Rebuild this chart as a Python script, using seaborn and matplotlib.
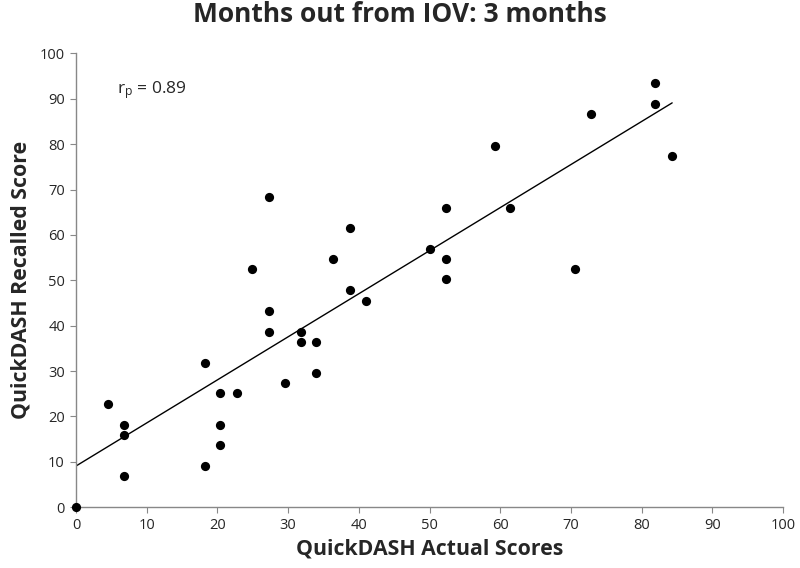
import numpy as np
import pandas as pd
import seaborn as sns
from matplotlib import pyplot as plt

# QuickDASH scores
actual = [0, 4.5, 6.8, 6.8, 6.8, 18.2, 18.2, 20.4, 22.7, 20.4, 20.4, 24.9, 27.3, 27.3, 27.3,
          29.6, 31.8, 31.8, 34.0, 34.0, 38.7, 36.4, 38.7, 41.0, 50.1, 52.3, 52.3, 52.3,
          81.9, 81.9, 72.8, 59.2, 84.3, 61.4, 70.5]
recalled = [0, 22.8, 18.2, 16.0, 6.8, 31.8, 9.0, 25.1, 25.1, 18.2, 13.7, 52.4, 68.3, 43.2, 38.7,
            27.4, 38.7, 36.4, 36.4, 29.6, 61.5, 54.7, 47.8, 45.5, 56.9, 66.0, 54.7, 50.2,
            93.4, 88.8, 86.6, 79.7, 77.4, 66.0, 52.4]
r_p = 0.89
ticks = list(range(0, 101, 10))

df = pd.DataFrame({'actual': actual, 'recalled': recalled})

sns.set_style('ticks')
plt.rcParams['font.family'] = ['Open Sans', 'DejaVu Sans']
plt.rcParams['mathtext.default'] = 'regular'

fig = plt.figure(figsize=(8, 5.68), dpi=100)
ax = fig.add_axes([0.095, 0.107, 0.884, 0.799])

sns.regplot(data=df, x='actual', y='recalled', ci=None, truncate=True, ax=ax,
            scatter_kws={'s': 44, 'color': 'black', 'alpha': 1, 'linewidths': 0,
                         'clip_on': False, 'zorder': 3},
            line_kws={'color': 'black', 'lw': 1.0})

ax.set_xlim(0, 100)
ax.set_ylim(0, 100)
ax.set_xticks(ticks)
ax.set_yticks(ticks)
ax.tick_params(labelsize=10.5, length=4, width=0.8, color='#888888', pad=4)
for s in ['left', 'bottom']:
    ax.spines[s].set_color('#888888')
    ax.spines[s].set_linewidth(1.0)
sns.despine(ax=ax)

ax.set_xlabel('QuickDASH Actual Scores', fontsize=15.3, fontweight='bold', labelpad=4)
ax.set_ylabel('QuickDASH Recalled Score', fontsize=15.3, fontweight='bold', labelpad=6)
fig.suptitle('Months out from IOV: 3 months', fontsize=19, fontweight='bold', y=0.998)

ax.text(5.8, 92, r'r$_{p}$ = ' + f'{r_p:.2f}', fontsize=12.5, va='center', ha='left')

fig.savefig('out.png', dpi=100)
